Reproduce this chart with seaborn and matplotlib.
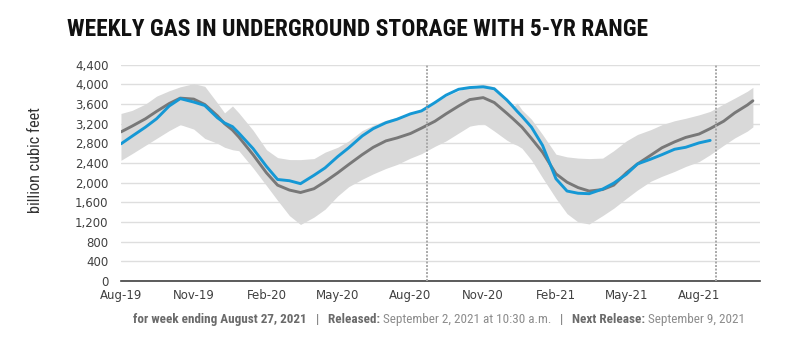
import matplotlib
matplotlib.use("Agg")
import matplotlib.pyplot as plt
import seaborn as sns
import pandas as pd

# weekly storage readings (billion cubic feet)
dates = [
    "2019-08-01", "2019-08-15", "2019-09-01", "2019-09-15", "2019-10-01", "2019-10-15",
    "2019-11-01", "2019-11-15", "2019-12-01", "2019-12-10", "2019-12-20", "2019-12-28",
    "2020-01-15", "2020-02-01", "2020-02-15", "2020-03-01", "2020-03-15", "2020-04-01",
    "2020-04-15", "2020-05-01", "2020-05-15", "2020-06-01", "2020-06-15", "2020-07-01",
    "2020-07-15", "2020-08-01", "2020-08-15", "2020-09-01", "2020-09-15", "2020-10-01",
    "2020-10-15", "2020-11-01", "2020-11-15", "2020-12-01", "2020-12-08", "2020-12-14",
    "2020-12-20", "2021-01-01", "2021-01-15", "2021-02-01", "2021-02-15", "2021-03-01",
    "2021-03-15", "2021-04-01", "2021-04-15", "2021-05-01", "2021-05-15", "2021-06-01",
    "2021-06-15", "2021-07-01", "2021-07-15", "2021-08-01", "2021-08-15", "2021-09-01",
    "2021-09-15", "2021-10-01", "2021-10-08",
]
storage = [
    2790, 2945, 3130, 3300, 3560, 3710, 3640, 3570, 3320, 3215, 3140, 3010,
    2694, 2330, 2065, 2040, 1980, 2150, 2300, 2530, 2710, 2950, 3100, 3220,
    3290, 3400, 3460, 3630, 3780, 3900, 3935, 3950, 3910, 3680, 3560, 3450,
    3350, 3130, 2760, 2080, 1830, 1785, 1776, 1870, 1990, 2170, 2380, 2480,
    2570, 2680, 2720, 2810, 2860,
]
avg5 = [
    3033, 3150, 3300, 3450, 3610, 3720, 3700, 3590, 3360, 3200, 3070, 2930,
    2570, 2200, 1950, 1850, 1800, 1877, 2020, 2200, 2370, 2570, 2720, 2850,
    2910, 3000, 3110, 3250, 3400, 3560, 3690, 3730, 3630, 3410, 3310, 3220,
    3130, 2900, 2620, 2180, 2010, 1900, 1830, 1860, 1950, 2200, 2380, 2560,
    2710, 2830, 2920, 2990, 3100, 3250, 3420, 3580, 3666,
]
range_high = [
    3408, 3470, 3600, 3760, 3870, 3950, 4015, 3960, 3620, 3420, 3560, 3420,
    3067, 2670, 2510, 2470, 2469, 2490, 2620, 2720, 2850, 3060, 3170, 3270,
    3330, 3420, 3490, 3620, 3760, 3870, 3950, 4006, 3950, 3714, 3530, 3620,
    3480, 3290, 2980, 2580, 2525, 2500, 2490, 2500, 2650, 2850, 2980, 3080,
    3180, 3260, 3310, 3380, 3450, 3600, 3720, 3860, 3939,
]
range_low = [
    2455, 2590, 2760, 2900, 3060, 3180, 3090, 2900, 2800, 2720, 2670, 2650,
    2300, 1940, 1640, 1330, 1150, 1300, 1460, 1730, 1920, 2070, 2180, 2290,
    2370, 2500, 2590, 2740, 2850, 3010, 3150, 3204, 3050, 2863, 2800, 2760,
    2700, 2460, 2100, 1680, 1370, 1200, 1160, 1330, 1480, 1680, 1850, 2030,
    2130, 2230, 2330, 2430, 2570, 2760, 2910, 3050, 3135,
]
marker_dates = ["2020-08-22", "2021-08-22"]
tick_dates = ["2019-08-01", "2019-11-01", "2020-02-01", "2020-05-01", "2020-08-01",
              "2020-11-01", "2021-02-01", "2021-05-01", "2021-08-01"]
tick_labels = ["Aug-19", "Nov-19", "Feb-20", "May-20", "Aug-20",
               "Nov-20", "Feb-21", "May-21", "Aug-21"]
y_ticks = list(range(0, 4401, 400))

df = pd.DataFrame({"date": pd.to_datetime(dates), "avg": avg5,
                   "low": range_low, "high": range_high})
df["storage"] = pd.Series(storage, dtype=float)

sns.set_style("white")
plt.rcParams["font.family"] = ["DejaVu Sans"]
narrow = dict(family=["Roboto Condensed", "Open Sans", "Liberation Sans"], fontstretch="condensed")

fig = plt.figure(figsize=(7.87, 3.51), dpi=100)
ax = fig.add_axes([0.1537, 0.1994, 0.8120, 0.6163])

ax.fill_between(df["date"], df["low"], df["high"], color="#d9d9d9", lw=0, zorder=1)
sns.lineplot(data=df, x="date", y="avg", color="#787878", lw=2.1, ax=ax, zorder=3)
sns.lineplot(data=df, x="date", y="storage", color="#1598d5", lw=2.1, ax=ax, zorder=4)
for m in marker_dates:
    ax.axvline(pd.Timestamp(m), color="#a8a8a8", lw=1.4, ls=(0, (1, 0.8)), zorder=5)

ax.set_xlim(pd.Timestamp("2019-08-01"), pd.Timestamp("2021-10-17"))
ax.set_ylim(0, 4400)
ax.set_xticks(pd.to_datetime(tick_dates))
ax.set_xticklabels(tick_labels)
ax.set_yticks(y_ticks)
ax.set_yticklabels([f"{v:,}" for v in y_ticks])
ax.set_xlabel("")
ax.set_ylabel("")

ax.set_axisbelow(True)
ax.yaxis.grid(True, color="#dedede", lw=1)
for s in ["left", "top", "right"]:
    ax.spines[s].set_visible(False)
ax.spines["bottom"].set_color("#404040")
ax.spines["bottom"].set_linewidth(1.2)
ax.tick_params(axis="x", direction="in", length=4, width=1, color="#404040",
               labelsize=8.5, labelcolor="#404040", pad=6)
ax.tick_params(axis="y", length=0, labelsize=8.5, labelcolor="#404040", pad=9)

ylab = fig.text(36 / 787, 1 - 160 / 351, "billion cubic feet", rotation=90, ha="center",
                va="center", fontsize=11, color="#333333", **narrow)

title = fig.text(67 / 787, 1 - 36 / 351, "WEEKLY GAS IN UNDERGROUND STORAGE WITH 5-YR RANGE",
                 fontsize=17, fontweight="bold", color="#111111", va="baseline", **narrow)

# footer: bold and plain pieces chained one after another
parts = [
    ("for week ending August 27, 2021", "bold", "#6a6a6a"),
    ("   |   ", "normal", "#7a7a7a"),
    ("Released: ", "bold", "#6a6a6a"),
    ("September 2, 2021 at 10:30 a.m.", "normal", "#8c8c8c"),
    ("   |   ", "normal", "#7a7a7a"),
    ("Next Release: ", "bold", "#6a6a6a"),
    ("September 9, 2021", "normal", "#8c8c8c"),
]
footer = [fig.text(133 / 787, 1 - 326 / 351, parts[0][0], fontsize=9.5,
                   fontweight=parts[0][1], color=parts[0][2], va="bottom", **narrow)]
for txt, w, c in parts[1:]:
    footer.append(ax.annotate(txt, xy=(1, 0), xycoords=footer[-1], va="bottom", ha="left",
                              fontsize=9.5, fontweight=w, color=c, annotation_clip=False,
                              **narrow))


# scale text groups so they span the same pixels as in the original
def fit(texts, target, vertical=False):
    fig.canvas.draw()
    r = fig.canvas.get_renderer()
    boxes = [t.get_window_extent(r) for t in texts]
    span = (boxes[0].height if vertical else boxes[-1].x1 - boxes[0].x0)
    k = target / span
    for t in texts:
        t.set_fontsize(t.get_fontsize() * k)


fit([title], 581)
fit(footer, 611)
fit([ylab], 106, vertical=True)

fig.savefig("out.png", dpi=100)
